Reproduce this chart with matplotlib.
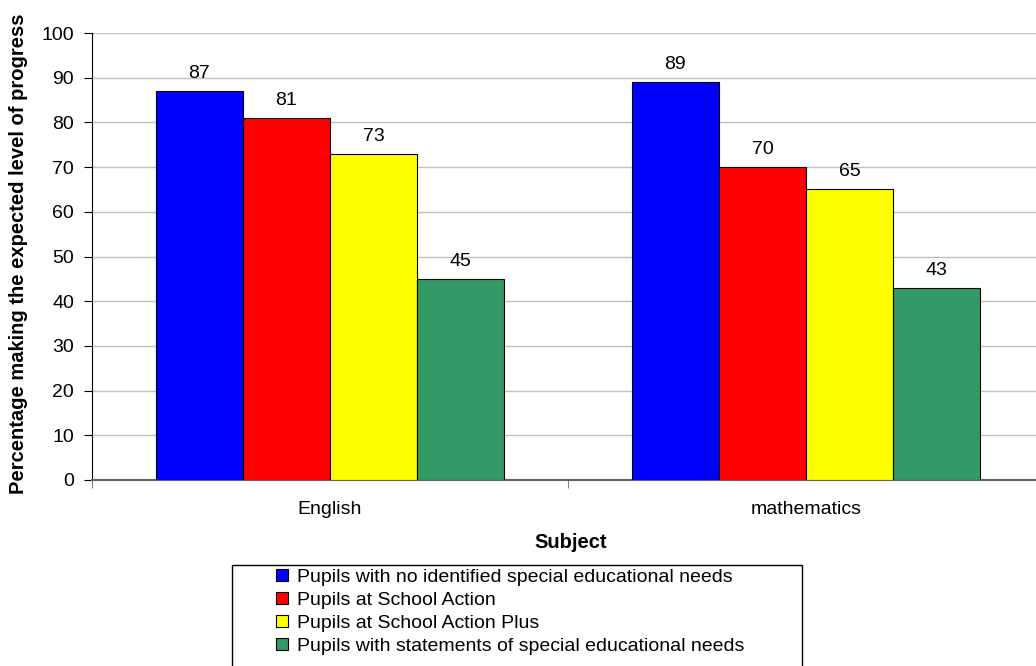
import numpy as np
import matplotlib as mpl
import matplotlib.pyplot as plt
from matplotlib.patches import Patch, Rectangle

mpl.rc('font', family=['Liberation Sans', 'DejaVu Sans'], size=14)

subjects = ["English", "mathematics"]
groups = ["Pupils with no identified special educational needs",
          "Pupils at School Action",
          "Pupils at School Action Plus",
          "Pupils with statements of special educational needs"]
values = [[87, 89],
          [81, 70],
          [73, 65],
          [45, 43]]
colors = ["#0000ff", "#ff0000", "#ffff00", "#339966"]

fig = plt.figure(figsize=(10.36, 6.66), dpi=100)
ax = fig.add_axes([92/1036, 186/666, 952/1036, 447/666])

width = 0.183
x = np.arange(len(subjects)) + 0.5
for i, (name, vals) in enumerate(zip(groups, values)):
    pos = x + (i - 1.5) * width
    ax.bar(pos, vals, width, color=colors[i], edgecolor='black', linewidth=0.8, zorder=3)
    for p, v in zip(pos, vals):
        ax.annotate(str(v), (p, v), xytext=(0, 6.5), textcoords='offset points',
                    ha='center', va='bottom', fontsize=14)

ax.set_xlim(0, 2)
ax.set_ylim(0, 100)
ax.set_yticks(range(0, 101, 10))
ax.set_xticks([0, 1, 2])
ax.set_xticklabels([])
ax.set_xticks(x, minor=True)
ax.set_xticklabels(subjects, minor=True)
ax.tick_params(axis='x', which='major', length=6, color='#808080')
ax.tick_params(axis='x', which='minor', length=0, pad=15, labelsize=14)
ax.tick_params(axis='y', length=6, pad=7, labelsize=14)
ax.grid(axis='y', color='#c0c0c0', linewidth=1, zorder=0)

for s in ['top', 'right']:
    ax.spines[s].set_visible(False)
ax.spines['left'].set_color('black')
ax.spines['bottom'].set_color('#606060')
ax.spines['bottom'].set_linewidth(1.5)

ax.set_ylabel('Percentage making the expected level of progress', fontweight='bold', fontsize=14.5)
ax.yaxis.set_label_coords(28/1036, 1 - 254/666, transform=fig.transFigure)
ax.set_xlabel('Subject', fontweight='bold', fontsize=14.5)
ax.xaxis.set_label_coords(571/1036, 1 - 533/666, transform=fig.transFigure)

# legend box runs past the bottom edge of the figure
fig.patches.append(Rectangle((232/1036, -0.05), 570/1036, 0.05 + 101/666,
                             transform=fig.transFigure, facecolor='white',
                             edgecolor='black', linewidth=1, zorder=0))
handles = [Patch(facecolor=c, edgecolor='black', linewidth=0.8) for c in colors]
leg = fig.legend(handles, groups, loc='upper left',
                 bbox_to_anchor=(276/1036, 1 - 569/666),
                 fontsize=14, frameon=False, borderpad=0,
                 labelspacing=0.3, handlelength=0.6, handleheight=0.6,
                 handletextpad=0.5, borderaxespad=0)

plt.savefig('out.png', dpi=100)
